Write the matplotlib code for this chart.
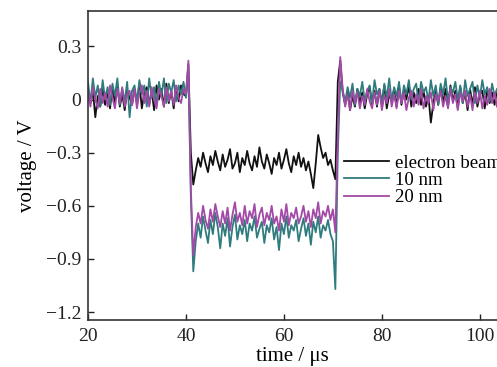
import numpy as np
import matplotlib.pyplot as plt

plt.rcParams['font.family'] = ['Liberation Serif', 'DejaVu Serif']
plt.rcParams['mathtext.fontset'] = 'stix'

# time samples (us)
t = [20.0, 20.5, 21.0, 21.5, 22.0, 22.5, 23.0, 23.5, 24.0, 24.5,
     25.0, 25.5, 26.0, 26.5, 27.0, 27.5, 28.0, 28.5, 29.0, 29.5,
     30.0, 30.5, 31.0, 31.5, 32.0, 32.5, 33.0, 33.5, 34.0, 34.5,
     35.0, 35.5, 36.0, 36.5, 37.0, 37.5, 38.0, 38.5, 39.0, 39.5,
     40.0, 40.5, 41.0, 41.5, 42.0,
     42.5, 43.0, 43.5, 44.0, 44.5, 45.0, 45.5, 46.0, 46.5, 47.0,
     47.5, 48.0, 48.5, 49.0, 49.5, 50.0, 50.5, 51.0, 51.5, 52.0,
     52.5, 53.0, 53.5, 54.0, 54.5, 55.0, 55.5, 56.0, 56.5, 57.0,
     57.5, 58.0, 58.5, 59.0, 59.5, 60.0, 60.5, 61.0, 61.5, 62.0,
     62.5, 63.0, 63.5, 64.0, 64.5, 65.0, 65.5, 66.0, 66.5, 67.0,
     67.5, 68.0, 68.5, 69.0, 69.5, 70.0,
     70.5, 71.0, 71.5, 72.0,
     72.5, 73.0, 73.5, 74.0, 74.5, 75.0, 75.5, 76.0, 76.5, 77.0,
     77.5, 78.0, 78.5, 79.0, 79.5, 80.0, 80.5, 81.0, 81.5, 82.0,
     82.5, 83.0, 83.5, 84.0, 84.5, 85.0, 85.5, 86.0, 86.5, 87.0,
     87.5, 88.0, 88.5, 89.0, 89.5, 90.0, 90.5, 91.0, 91.5, 92.0,
     92.5, 93.0, 93.5, 94.0, 94.5, 95.0, 95.5, 96.0, 96.5, 97.0,
     97.5, 98.0, 98.5, 99.0, 99.5, 100.0, 100.5, 101.0, 101.5, 102.0,
     102.5, 103.0, 103.5]

# electron beam (V)
v_ebeam = [0.03, -0.02, 0.05, -0.10, 0.02, -0.04, 0.06, -0.03, 0.04, -0.05,
           0.07, -0.02, 0.08, -0.04, 0.03, -0.06, 0.05, 0.01, -0.03, 0.06,
           -0.02, 0.09, -0.05, 0.04, 0.07, -0.03, 0.05, -0.06, 0.08, 0.00,
           0.06, -0.04, 0.09, -0.02, 0.05, -0.05, 0.07, -0.01, 0.08, 0.03,
           0.02, 0.20, -0.30, -0.48, -0.40,
           -0.33, -0.38, -0.30, -0.36, -0.41, -0.32, -0.37, -0.29, -0.35, -0.40,
           -0.31, -0.38, -0.34, -0.28, -0.39, -0.36, -0.30, -0.41, -0.33, -0.37,
           -0.29, -0.36, -0.40, -0.32, -0.38, -0.27, -0.35, -0.39, -0.31, -0.36,
           -0.42, -0.33, -0.37, -0.30, -0.39, -0.34, -0.28, -0.36, -0.41, -0.32,
           -0.37, -0.30, -0.38, -0.33, -0.40, -0.35, -0.42, -0.50, -0.36, -0.20,
           -0.27, -0.33, -0.30, -0.37, -0.34, -0.40,
           -0.45, 0.10, 0.22, 0.04,
           -0.03, 0.05, -0.06, 0.02, -0.04, 0.06, -0.02, 0.04, -0.05, 0.03,
           0.07, -0.03, 0.05, -0.04, 0.06, -0.02, 0.08, -0.05, 0.03, -0.01,
           0.06, -0.04, 0.07, -0.03, 0.05, 0.00, 0.08, -0.04, 0.04, -0.02,
           0.06, -0.03, 0.05, -0.04, 0.02, -0.13, -0.02, 0.05, -0.03, 0.07,
           -0.02, 0.06, -0.04, 0.08, -0.01, 0.05, -0.05, 0.07, -0.02, 0.04,
           -0.06, 0.06, -0.03, 0.07, -0.04, 0.03, 0.05, -0.05, 0.06, -0.02,
           0.04, -0.03, 0.05]

# 10 nm (V)
v_10nm = [0.10, -0.02, 0.12, 0.01, 0.08, -0.04, 0.11, 0.00, 0.07, -0.03,
          0.09, 0.02, 0.12, -0.03, 0.06, -0.01, 0.10, -0.10, 0.05, 0.08,
          -0.02, 0.11, 0.03, 0.08, -0.04, 0.12, 0.01, 0.07, -0.03, 0.10,
          0.02, 0.12, -0.02, 0.09, 0.04, 0.11, -0.01, 0.08, 0.03, 0.10,
          0.01, 0.15, -0.55, -0.97, -0.80,
          -0.70, -0.78, -0.66, -0.74, -0.81, -0.68, -0.76, -0.64, -0.72, -0.84,
          -0.70, -0.77, -0.67, -0.83, -0.72, -0.65, -0.79, -0.71, -0.76, -0.68,
          -0.80, -0.70, -0.74, -0.66, -0.78, -0.73, -0.69, -0.81, -0.71, -0.75,
          -0.67, -0.79, -0.72, -0.85, -0.70, -0.76, -0.66, -0.78, -0.71, -0.74,
          -0.68, -0.80, -0.73, -0.67, -0.77, -0.70, -0.82, -0.69, -0.75, -0.66,
          -0.78, -0.71, -0.74, -0.68, -0.76, -0.80,
          -1.07, -0.30, 0.10, 0.05,
          -0.02, 0.07, 0.01, 0.09, -0.03, 0.06, 0.02, 0.10, -0.01, 0.05,
          0.08, -0.02, 0.11, 0.03, 0.06, -0.03, 0.09, 0.01, 0.12, -0.01,
          0.07, 0.02, 0.10, -0.02, 0.08, 0.03, 0.11, 0.00, 0.06, 0.09,
          -0.02, 0.10, 0.04, 0.07, -0.01, 0.11, 0.02, 0.08, -0.03, 0.09,
          0.03, 0.12, -0.01, 0.07, 0.04, 0.10, 0.00, 0.08, -0.02, 0.11,
          0.02, 0.06, 0.10, -0.02, 0.08, 0.01, 0.11, 0.03, 0.07, -0.01,
          0.09, 0.02, 0.06]

# 20 nm (V)
v_20nm = [0.05, -0.04, 0.07, 0.00, -0.05, 0.06, -0.02, 0.04, -0.04, 0.08,
          0.01, -0.05, 0.06, -0.02, 0.07, -0.04, 0.03, 0.05, -0.03, 0.06,
          -0.05, 0.04, 0.08, -0.02, 0.05, -0.04, 0.07, 0.00, -0.05, 0.06,
          0.02, -0.04, 0.07, -0.01, 0.05, -0.03, 0.08, 0.01, -0.02, 0.06,
          0.03, 0.22, -0.50, -0.88, -0.72,
          -0.64, -0.70, -0.60, -0.68, -0.73, -0.62, -0.69, -0.59, -0.66, -0.72,
          -0.63, -0.70, -0.61, -0.74, -0.65, -0.58, -0.69, -0.64, -0.71, -0.60,
          -0.70, -0.63, -0.67, -0.59, -0.72, -0.65, -0.61, -0.71, -0.64, -0.68,
          -0.60, -0.70, -0.66, -0.74, -0.62, -0.69, -0.59, -0.71, -0.64, -0.67,
          -0.61, -0.70, -0.66, -0.60, -0.69, -0.63, -0.72, -0.62, -0.67, -0.58,
          -0.70, -0.63, -0.66, -0.60, -0.68, -0.62,
          -0.75, -0.20, 0.24, 0.06,
          -0.04, 0.03, -0.06, 0.05, -0.02, 0.04, -0.05, 0.02, -0.03, 0.06,
          -0.01, -0.05, 0.04, -0.03, 0.05, -0.06, 0.02, -0.02, 0.06, -0.04,
          0.03, -0.05, 0.05, -0.02, 0.04, -0.06, 0.01, 0.05, -0.04, 0.03,
          -0.03, 0.06, -0.05, 0.02, -0.02, 0.04, -0.06, 0.03, -0.01, 0.05,
          -0.04, 0.02, -0.05, 0.06, -0.02, 0.03, -0.06, 0.04, -0.01, 0.05,
          -0.04, 0.03, -0.06, 0.04, -0.02, 0.05, -0.05, 0.02, -0.03, 0.06,
          -0.02, 0.04, -0.04]

labels = ['electron beam', '10 nm', '20 nm']
colors = ['#111111', '#2f7b7d', '#a24aa6']

fig = plt.figure(figsize=(4.97, 3.67), dpi=100)
ax = fig.add_axes([0.177, 0.128, 0.823, 0.842])

ax.plot(t, v_ebeam, color=colors[0], lw=1.3, label=labels[0])
ax.plot(t, v_10nm, color=colors[1], lw=1.3, label=labels[1])
ax.plot(t, v_20nm, color=colors[2], lw=1.3, label=labels[2])

ax.set_xlim(20, 103.5)
ax.set_ylim(-1.245, 0.5)
ax.set_xticks([20, 40, 60, 80, 100])
ax.set_yticks([0.3, 0, -0.3, -0.6, -0.9, -1.2])
ax.set_yticklabels(['0.3', '0', '\u22120.3', '\u22120.6', '\u22120.9', '\u22121.2'])
ax.tick_params(direction='in', length=4, width=1, labelsize=14, colors='#222222')
ax.tick_params(axis='x', pad=6)
ax.tick_params(axis='y', pad=5)
ax.spines['right'].set_visible(False)
for s in ['left', 'bottom', 'top']:
    ax.spines[s].set_linewidth(1.2)
    ax.spines[s].set_color('#333333')

ax.set_xlabel('time / \u03bcs', fontsize=15, labelpad=1)
ax.set_ylabel('voltage / V', fontsize=15, labelpad=6)

ax.legend(loc='upper left', bbox_to_anchor=(0.625, 0.535), frameon=False,
          fontsize=13.5, handlelength=2.4, handletextpad=0.35, labelspacing=0.0,
          borderpad=0, borderaxespad=0)

fig.savefig('out.png', dpi=100)
